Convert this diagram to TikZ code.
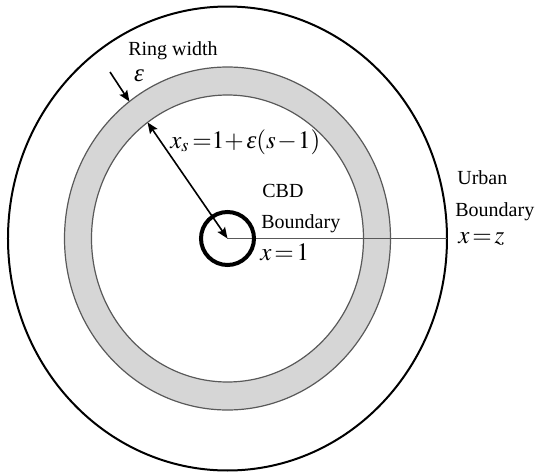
\documentclass[tikz,border=0pt]{standalone}
\usepackage{mathptmx}
\usepackage{fontspec}
\setmainfont{Liberation Serif}
\usepackage{tikz}
\usetikzlibrary{arrows.meta}

\newcommand{\epsit}{\mbox{\itshape ε}}
\newcommand{\tightmath}{\thickmuskip=2mu\relax\medmuskip=1mu\relax}

\begin{document}
\begin{tikzpicture}[
    x=0.5pt, y=0.5pt,
    >={Stealth[length=5.5pt,width=4.5pt,inset=1pt]},
    boundary/.style={draw=black, line width=1pt},
    ringedge/.style={draw=black!65, line width=0.6pt},
    ringfill/.style={fill=black!16, even odd rule},
    cbdcircle/.style={draw=black, line width=2pt},
    axisline/.style={draw=black!65, line width=0.6pt},
    dimarrow/.style={line width=0.8pt, ->},
    citytext/.style={font=\fontsize{10}{12}\selectfont, inner sep=0pt},
    mathtext/.style={font=\fontsize{12.5}{15}\selectfont, inner sep=0pt}
]
\useasboundingbox (-227.5,-234.5) rectangle (310.5,238.5);
\coordinate (centre) at (0,0);
% rings
\fill[ringfill] (centre) ellipse [x radius=163, y radius=171.5]
                (centre) ellipse [x radius=136, y radius=143.5];
\draw[ringedge] (centre) ellipse [x radius=163, y radius=171.5];
\draw[ringedge] (centre) ellipse [x radius=136, y radius=143.5];
\draw[boundary] (centre) ellipse [x radius=219.5, y radius=232];
% radius to urban boundary
\coordinate (urbanedge) at (219.5,0);
\draw[axisline] (centre) -- (urbanedge);
\draw[cbdcircle] (centre) circle [radius=26.5];
% arrows
\coordinate (ringinner) at (126:136 and 143.5);
\coordinate (ringouter) at (127:163 and 171.5);
\coordinate (ringtail) at (-117.5,166.5);
\draw[dimarrow, <->] (ringinner) -- (centre);
\draw[dimarrow] (ringtail) -- (ringouter);
% labels
\node (ringwidth) [citytext] at (-54.5,187.5) {Ring width};
\node (eps) [mathtext] at (-88.5,162.5) {\epsit};
\node (xs) [mathtext, anchor=base west] at (-57.5,90.5) {$\tightmath x_s\;{=}1{+}\,\epsit(s-1)$};
\node (cbd) [citytext, anchor=base west] at (34.5,41.5) {CBD};
\node (cbdbound) [citytext, anchor=base west] at (33.5,10.5) {Boundary};
\node (xone) [mathtext, anchor=base west] at (32.5,-21.5) {$\tightmath x=1$};
\node (urban) [citytext, anchor=base west] at (229.5,54.5) {Urban};
\node (urbanbound) [citytext, anchor=base west] at (227.5,22.5) {Boundary};
\node (xz) [mathtext, anchor=base west] at (230.5,-4.5) {$\tightmath x=z$};
\end{tikzpicture}
\end{document}
